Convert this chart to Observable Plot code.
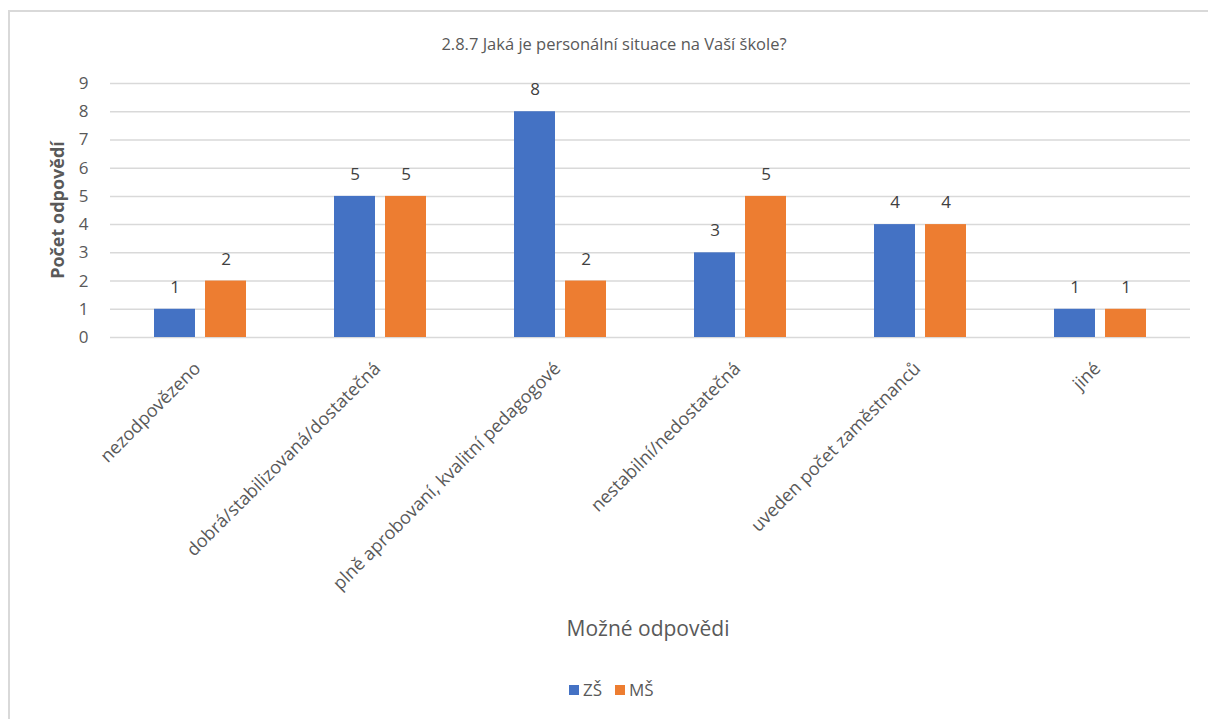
<!DOCTYPE html>
<html>
<head>
<meta charset="utf-8">
<script src="https://cdn.jsdelivr.net/npm/d3@7"></script>
<script src="https://cdn.jsdelivr.net/npm/@observablehq/plot@0.6"></script>
<style>
  html, body { margin: 0; padding: 0; background: #fff; overflow: hidden; }
  body { width: 1208px; height: 719px; position: relative; font-family: "Open Sans", sans-serif; color: #595959; }
  #frame { position: absolute; left: 8px; top: 10px; width: 1230px; height: 740px; border: 2px solid #d9d9d9; box-sizing: border-box; }
  #chart { position: absolute; left: 0; top: 0; }
  #title { position: absolute; left: 0; width: 1228px; top: 32px; text-align: center; font-size: 16.5px; color: #595959; }
  #ytitle { position: absolute; left: 57px; top: 210px; transform: translate(-50%, -50%) rotate(-90deg); font-size: 18px; font-weight: bold; white-space: nowrap; color: #595959; }
  #xtitle { position: absolute; left: 0; width: 1296px; top: 614px; text-align: center; font-size: 21px; color: #595959; }
  #legend { position: absolute; left: 569px; top: 678px; font-size: 17px; display: flex; align-items: center; color: #595959; }
  #legend .sw { width: 10px; height: 10px; display: inline-block; margin-right: 4px; }
  #legend .it { display: flex; align-items: center; margin-right: 13px; }
</style>
</head>
<body>
<div id="frame"></div>
<div id="chart"></div>
<div id="title">2.8.7 Jaká je personální situace na Vaší škole?</div>
<div id="ytitle">Počet odpovědí</div>
<div id="xtitle">Možné odpovědi</div>
<div id="legend"></div>
<script>
const categories = [
  "nezodpovězeno",
  "dobrá/stabilizovaná/dostatečná",
  "plně aprobovaní, kvalitní pedagogové",
  "nestabilní/nedostatečná",
  "uveden počet zaměstnanců",
  "jiné"
];
const series = ["ZŠ", "MŠ"];
const zsValues = [1, 5, 8, 3, 4, 1];
const msValues = [2, 5, 2, 5, 4, 1];
const yTicks = [0, 1, 2, 3, 4, 5, 6, 7, 8, 9];
const colors = ["#4472C4", "#ED7D31"];

const data = [];
categories.forEach((c, i) => {
  data.push({cat: c, series: series[0], value: zsValues[i]});
  data.push({cat: c, series: series[1], value: msValues[i]});
});

const plot = Plot.plot({
  width: 1208,
  height: 610,
  marginLeft: 108,
  marginRight: 17,
  marginTop: 83,
  marginBottom: 273,
  style: {fontFamily: "'Open Sans', sans-serif", color: "#595959", background: "transparent"},
  fx: {domain: categories, padding: 0, label: null, axis: null},
  x: {domain: series, paddingInner: 0.204, paddingOuter: 0.854, axis: null},
  y: {domain: [0, 9], axis: null},
  color: {domain: series, range: colors},
  marks: [
    Plot.gridY(yTicks, {stroke: "#d9d9d9", strokeOpacity: 1, strokeWidth: 1.5}),
    Plot.barY(data, {fx: "cat", x: "series", y: "value", fill: "series"}),
    Plot.text(data, {fx: "cat", x: "series", y: "value", text: d => String(d.value), dy: -22, fontSize: 17, fill: "#404040"}),
    Plot.axisY({ticks: yTicks, tickSize: 0, tickPadding: 22, label: null, fontSize: 17, fill: "#595959"}),
    Plot.axisFx({anchor: "bottom", tickRotate: -45, tickSize: 0, tickPadding: 24, dx: -3, dy: 4, label: null, fontSize: 18, fill: "#595959"})
  ]
});
document.getElementById("chart").appendChild(plot);

const legend = document.getElementById("legend");
series.forEach((s, i) => {
  const it = document.createElement("span");
  it.className = "it";
  const sw = document.createElement("span");
  sw.className = "sw";
  sw.style.background = colors[i];
  it.appendChild(sw);
  it.appendChild(document.createTextNode(s));
  legend.appendChild(it);
});
</script>
</body>
</html>
